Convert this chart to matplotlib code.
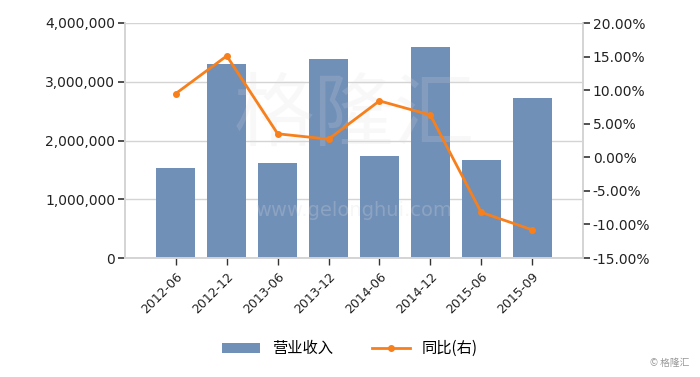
import matplotlib
matplotlib.use("Agg")
import matplotlib.pyplot as plt
from matplotlib.ticker import FuncFormatter

plt.rcParams['font.family'] = ['DejaVu Sans', 'Noto Sans CJK SC']

periods = ["2012-06", "2012-12", "2013-06", "2013-12",
           "2014-06", "2014-12", "2015-06", "2015-09"]
revenue = [1527000, 3300000, 1610000, 3380000,
           1740000, 3600000, 1670000, 2720000]
yoy_pct = [9.5, 15.1, 3.5, 2.7, 8.4, 6.3, -8.2, -10.8]

BAR_COLOR = "#7190b8"
LINE_COLOR = "#f7801c"
GRID = "#d4d4d4"

fig = plt.figure(figsize=(7.0, 3.77), dpi=100)
ax = fig.add_axes([125 / 700, 1 - 258 / 377, 458 / 700, 235 / 377])
ax2 = ax.twinx()

x = list(range(len(periods)))
bars = ax.bar(x, revenue, width=0.77, color=BAR_COLOR, zorder=2, label="营业收入")
line, = ax2.plot(x, yoy_pct, color=LINE_COLOR, lw=2, marker="o", ms=4,
                 zorder=3, label="同比(右)")

ax.set_xlim(-1, 8)
ax.set_ylim(0, 4000000)
ax.set_yticks([0, 1000000, 2000000, 3000000, 4000000])
ax.yaxis.set_major_formatter(FuncFormatter(lambda v, p: f"{int(v):,}"))
ax2.set_ylim(-15, 20)
ax2.set_yticks(range(-15, 21, 5))
ax2.yaxis.set_major_formatter(FuncFormatter(lambda v, p: f"{v:.2f}%"))

ax.grid(axis="y", color=GRID, lw=1, zorder=0)
ax.set_axisbelow(True)
for a in (ax, ax2):
    a.spines["top"].set_visible(False)
    for s in ("left", "right", "bottom"):
        a.spines[s].set_color(GRID)
        a.spines[s].set_linewidth(1.2)
    a.tick_params(axis="y", length=5, width=1.2, color="#333333",
                  labelsize=10, labelcolor="#222222", pad=2)

ax.set_xticks(x)
ax.set_xticklabels(periods, rotation=45, ha="right", rotation_mode="anchor",
                   fontsize=9, color="#222222")
ax.tick_params(axis="x", length=5, color="#333333", width=1)

# faint watermark
ax2.text(0.5, 0.6, "格隆汇", transform=ax2.transAxes, fontsize=58,
         color="#dddddd", alpha=0.18, ha="center", va="center",
         family=['Noto Sans CJK SC'], zorder=2.5)
ax2.text(0.5, 0.2, "www.gelonghui.com", transform=ax2.transAxes, fontsize=14,
         color="#dddddd", alpha=0.25, ha="center", va="center", zorder=2.5)
fig.text(0.985, 0.03, "© 格隆汇", fontsize=7, color="#999999", ha="right",
         family=['Noto Sans CJK SC', 'DejaVu Sans'])

fig.legend(handles=[bars, line], loc="center", bbox_to_anchor=(0.5, 0.075),
           ncol=2, frameon=False, handlelength=2.5, columnspacing=2.5,
           prop={'family': ['Noto Sans CJK SC', 'DejaVu Sans'], 'size': 11})

fig.savefig("out.png", dpi=100)
